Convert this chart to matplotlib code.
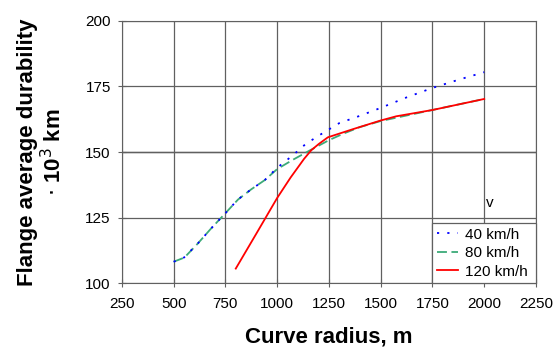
import numpy as np
import matplotlib.pyplot as plt

plt.rcParams['font.family'] = ['Liberation Sans', 'DejaVu Sans']

# Curve radius (m) and durability (10^3 km)
r_40 = [500, 550, 615, 680, 750, 810, 875, 940, 1000, 1075, 1137, 1206, 1300, 1400, 1500, 1625, 1750, 1875, 2000]
d_40 = [108.2, 109.8, 115, 120.8, 126.7, 131.9, 135.8, 139.3, 144, 148.7, 153, 156.5, 161, 163.8, 166.8, 170.8, 174.4, 177.5, 180.4]

r_80 = [500, 552, 615, 680, 750, 811, 875, 940, 1000, 1075, 1160, 1250, 1320, 1400, 1500, 1750, 2000]
d_80 = [108.2, 109.8, 115, 120.8, 126.7, 131.9, 135.8, 139.3, 143.5, 147, 150.7, 154.5, 157, 159.5, 161.8, 166, 170.2]

r_120 = [800, 900, 1000, 1065, 1130, 1165, 1200, 1245, 1366, 1500, 1575, 1750, 2000]
d_120 = [105.6, 119, 132.5, 140.3, 147.4, 150.7, 153, 155.6, 158.7, 162, 163.6, 166, 170.2]

xticks = [250, 500, 750, 1000, 1250, 1500, 1750, 2000, 2250]
yticks = [100, 125, 150, 175, 200]

fig = plt.figure(figsize=(5.54, 3.47), dpi=100)
ax = fig.add_axes([0.220, 0.1836, 0.7475, 0.7567])

ax.plot(r_40, d_40, color='#0000ff', linestyle=(0, (1.2, 4.5)), linewidth=1.3, label='40 km/h', zorder=3)
ax.plot(r_80, d_80, color='#3caa78', linestyle=(0, (5.5, 2.5)), linewidth=1.3, label='80 km/h', zorder=2)
ax.plot(r_120, d_120, color='#ff0000', linewidth=1.3, label='120 km/h', zorder=4)

ax.set_xlim(250, 2250)
ax.set_ylim(100, 200)
ax.set_xticks(xticks)
ax.set_yticks(yticks)
ax.grid(True, color='#606060', linewidth=0.9)
ax.axhline(150, color='black', linewidth=0.9, zorder=1)
ax.tick_params(axis='both', labelsize=11, color='#606060', length=6, direction='inout')
ax.tick_params(axis='x', pad=7)
ax.tick_params(axis='y', pad=5)
for s in ax.spines.values():
    s.set_color('#606060')

ax.set_xlabel('Curve radius, m', fontsize=16, fontweight='bold', labelpad=11)
ax.set_ylabel('Flange average durability\n$\\cdot$ 10$^3$ km', fontsize=16, fontweight='bold',
              labelpad=14, linespacing=1.15)

ax.text(2010, 129, 'v', fontsize=11)
leg = ax.legend(loc='lower left', bbox_to_anchor=(1750, 100, 500, 25), bbox_transform=ax.transData,
                mode='expand', fontsize=11, fancybox=False, edgecolor='#606060', framealpha=1,
                borderaxespad=0, handlelength=1.4, handletextpad=0.4, labelspacing=0.3,
                borderpad=0.3)
leg.get_frame().set_linewidth(0.9)

fig.savefig('out.png', dpi=100)
